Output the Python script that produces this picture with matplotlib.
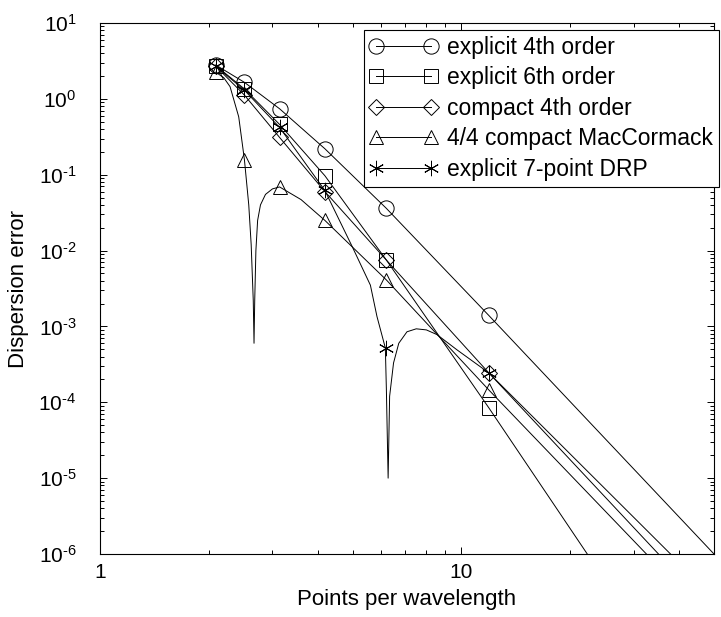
import math
import matplotlib
matplotlib.use('Agg')
import matplotlib.pyplot as plt
from matplotlib.lines import Line2D
from matplotlib.ticker import FixedLocator, LogLocator, FuncFormatter, NullFormatter

plt.rcParams['font.family'] = ['Liberation Sans', 'DejaVu Sans']
plt.rcParams['mathtext.fontset'] = 'custom'
plt.rcParams['mathtext.rm'] = 'Liberation Sans'
plt.rcParams['mathtext.it'] = 'Liberation Sans:italic'
plt.rcParams['mathtext.bf'] = 'Liberation Sans:bold'

# points per wavelength where the markers sit
ppw = [2.09, 2.51, 3.14, 4.19, 6.2, 11.9]

# marker values (dispersion error)
exp4_err = [2.8, 1.65, 0.74, 0.22, 0.036, 1.4e-3]
exp6_err = [2.75, 1.35, 0.46, 0.097, 7.5e-3, 8.5e-5]
cmp4_err = [2.7, 1.12, 0.31, 0.06, 7.5e-3, 2.45e-4]
mac_err = [2.25, 0.157, 0.069, 0.025, 4.1e-3, 1.46e-4]
drp_err = [2.7, 1.3, 0.42, 0.062, 5.2e-4, 2.45e-4]

# curves (markers plus the extra points)
exp4_x = ppw + [50.0]
exp4_y = exp4_err + [1e-6]
exp6_x = ppw + [22.3]
exp6_y = exp6_err + [1e-6]
cmp4_x = ppw + [35.1]
cmp4_y = cmp4_err + [1e-6]
mac_x = [2.09, 2.2, 2.29, 2.42, 2.51, 2.58, 2.62, 2.655, 2.668, 2.68, 2.70,
         2.73, 2.78, 2.87, 3.0, 3.14, 3.6, 4.19, 6.2, 11.9, 32.5]
mac_y = [2.25, 1.9, 1.45, 0.58, 0.157, 0.04, 0.012, 2.2e-3, 6e-4, 2.2e-3, 0.01,
         0.025, 0.04, 0.055, 0.065, 0.069, 0.047, 0.025, 4.1e-3, 1.46e-4, 1e-6]
drp_x = [2.09, 2.51, 3.14, 4.19, 5.0, 5.6, 5.84, 6.16, 6.2, 6.27, 6.33, 6.49,
         6.71, 7.07, 7.5, 8.0, 8.56, 9.73, 11.9, 37.9]
drp_y = [2.7, 1.3, 0.42, 0.062, 0.011, 3.5e-3, 1.35e-3, 5.2e-4, 1.5e-4, 1e-5,
         1.2e-4, 3.3e-4, 6e-4, 8.5e-4, 9.3e-4, 9.0e-4, 7.8e-4, 4.9e-4, 2.45e-4, 1e-6]

labels = ['explicit 4th order', 'explicit 6th order', 'compact 4th order',
          '4/4 compact MacCormack', 'explicit 7-point DRP']

series = [
    (exp4_x, exp4_y, exp4_err, 'o', 11),
    (exp6_x, exp6_y, exp6_err, 's', 9.5),
    (cmp4_x, cmp4_y, cmp4_err, 'D', 8),
    (mac_x, mac_y, mac_err, '^', 10.5),
    (drp_x, drp_y, drp_err, (6, 2, 0), 11),
]

x_major = [1, 10]
y_major = [1e-6, 1e-5, 1e-4, 1e-3, 1e-2, 1e-1, 1, 10]

fig = plt.figure(figsize=(7.21, 6.17), dpi=100)
ax = fig.add_axes([100 / 721, 1 - 554 / 617, 614 / 721, 531 / 617])

handles = []
for (lx, ly, me, mk, ms), lab in zip(series, labels):
    ax.plot(lx, ly, color='k', lw=0.7)
    ax.plot(ppw, me, linestyle='none', marker=mk, ms=ms, mfc='none',
            mec='k', mew=0.7)
    handles.append(Line2D([], [], color='k', lw=0.7, marker=mk, ms=ms,
                          mfc='none', mec='k', mew=0.7))

ax.set_xscale('log')
ax.set_yscale('log')
ax.set_xlim(1, 50)
ax.set_ylim(1e-6, 10)

ax.xaxis.set_major_locator(FixedLocator(x_major))
ax.xaxis.set_minor_locator(LogLocator(base=10, subs=range(2, 10), numticks=10))
ax.xaxis.set_major_formatter(FuncFormatter(lambda v, p: '%d' % round(v)))
ax.xaxis.set_minor_formatter(NullFormatter())


def ylab(v, p):
    e = int(round(math.log10(v)))
    if e < 0:
        return r'$\mathregular{10^{\text{-}%d}}$' % (-e)
    return r'$\mathregular{10^{%d}}$' % e


ax.yaxis.set_major_locator(FixedLocator(y_major))
ax.yaxis.set_minor_locator(LogLocator(base=10, subs=range(2, 10), numticks=20))
ax.yaxis.set_major_formatter(FuncFormatter(ylab))
ax.yaxis.set_minor_formatter(NullFormatter())

ax.tick_params(which='both', direction='in', top=True, right=True, width=0.7)
ax.tick_params(which='major', length=5)
ax.tick_params(which='minor', length=3)
ax.tick_params(axis='x', labelsize=15, pad=6.5)
ax.tick_params(axis='y', labelsize=15, pad=17)
for s in ax.spines.values():
    s.set_linewidth(0.8)

ax.set_xlabel('Points per wavelength', fontsize=16, labelpad=5)
ax.set_ylabel('Dispersion error', fontsize=16, labelpad=7)

leg = ax.legend(handles, labels, loc='upper right',
                bbox_to_anchor=(1.008, 0.987), borderaxespad=0,
                numpoints=2, handlelength=3.0, handletextpad=0.4,
                labelspacing=0.33, borderpad=0.25, fontsize=16.5,
                fancybox=False, framealpha=1, edgecolor='k')
leg.get_frame().set_linewidth(0.8)

fig.savefig('out.png', dpi=100)
